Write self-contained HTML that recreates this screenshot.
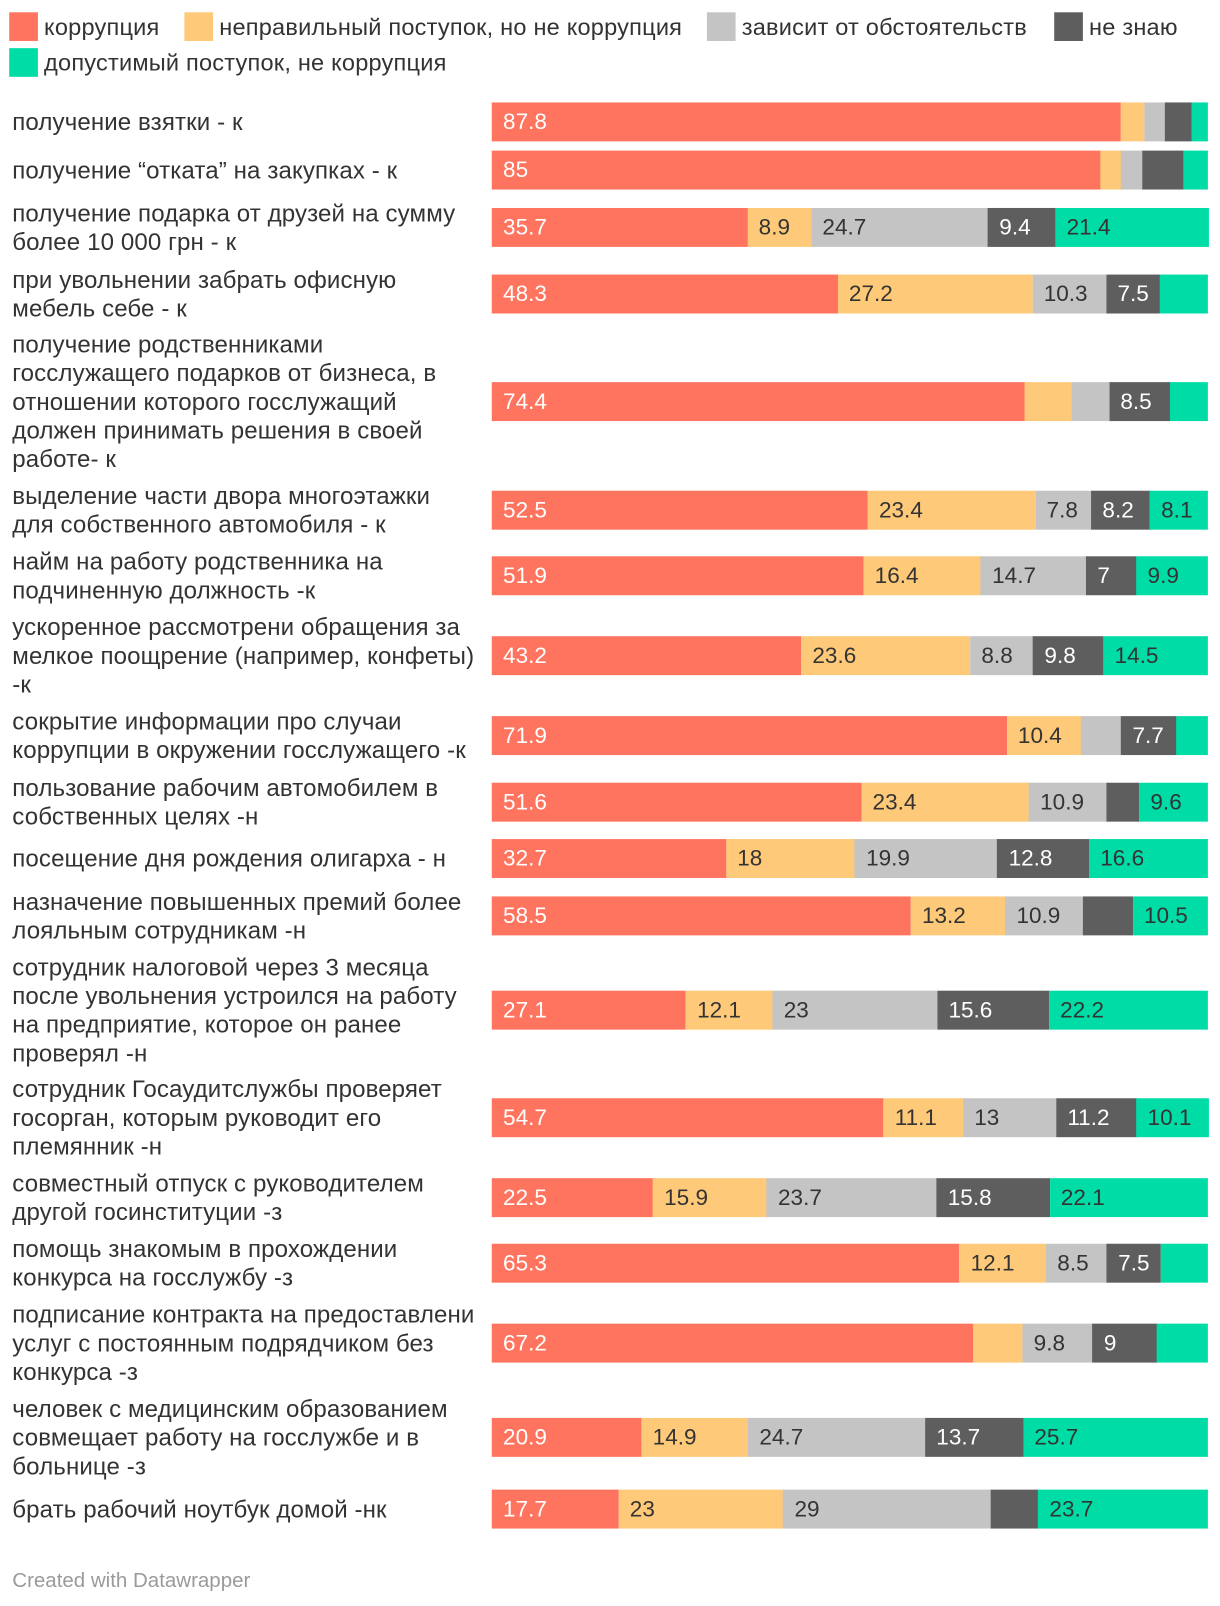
<!DOCTYPE html>
<html><head><meta charset="utf-8">
<style>
body{margin:0;background:#fff;width:1220px;height:1606px;position:relative;font-family:"Liberation Sans","DejaVu Sans",sans-serif;color:#333;overflow:hidden}
#wrap{position:absolute;left:0;top:0;width:1191px;height:1568px;transform:scale(1.0245);transform-origin:0 0}
.leg{position:absolute;font-size:23px;letter-spacing:0.2px;line-height:28px;display:flex;align-items:center;white-space:nowrap;color:#333}
.leg i{display:inline-block;width:28px;height:28px;margin-right:6px}
.lab{position:absolute;left:12px;width:470px;font-size:23.5px;letter-spacing:0.1px;line-height:28px;transform:translateY(-50%);white-space:nowrap}
.seg{position:absolute;height:38px;font-size:22px;line-height:38px;box-sizing:border-box;padding-left:11px;overflow:hidden;white-space:nowrap}
.foot{position:absolute;left:12px;top:1532px;font-size:20px;color:#9a9a9a}
</style></head><body>
<div id="wrap">
<div class="leg" style="left:9px;top:12px"><i style="background:#ff745f"></i>коррупция</div>
<div class="leg" style="left:180px;top:12px"><i style="background:#fec978"></i>неправильный поступок, но не коррупция</div>
<div class="leg" style="left:690px;top:12px"><i style="background:#c4c4c4"></i>зависит от обстоятельств</div>
<div class="leg" style="left:1029px;top:12px"><i style="background:#5e5e5e"></i>не знаю</div>
<div class="leg" style="left:9px;top:47px"><i style="background:#00dca6"></i>допустимый поступок, не коррупция</div>
<div id="chart"></div>
<div class="foot">Created with Datawrapper</div>
</div>
<script>
const categories=["получение взятки - к","получение “отката” на закупках - к","получение подарка от друзей на сумму<br>более 10 000 грн - к","при увольнении забрать офисную<br>мебель себе - к","получение родственниками<br>госслужащего подарков от бизнеса, в<br>отношении которого госслужащий<br>должен принимать решения в своей<br>работе- к","выделение части двора многоэтажки<br>для собственного автомобиля - к","найм на работу родственника на<br>подчиненную должность -к","ускоренное рассмотрени обращения за<br>мелкое поощрение (например, конфеты)<br>-к","сокрытие информации про случаи<br>коррупции в окружении госслужащего -к","пользование рабочим автомобилем в<br>собственных целях -н","посещение дня рождения олигарха - н","назначение повышенных премий более<br>лояльным сотрудникам -н","сотрудник налоговой через 3 месяца<br>после увольнения устроился на работу<br>на предприятие, которое он ранее<br>проверял -н","сотрудник Госаудитслужбы проверяет<br>госорган, которым руководит его<br>племянник -н","совместный отпуск с руководителем<br>другой госинституции -з","помощь знакомым в прохождении<br>конкурса на госслужбу -з","подписание контракта на предоставлени<br>услуг с постоянным подрядчиком без<br>конкурса -з","человек с медицинским образованием<br>совмещает работу на госслужбе и в<br>больнице -з","брать рабочий ноутбук домой -нк"];
const corruption=[87.8,85,35.7,48.3,74.4,52.5,51.9,43.2,71.9,51.6,32.7,58.5,27.1,54.7,22.5,65.3,67.2,20.9,17.7];
const wrong=[3.3,2.9,8.9,27.2,6.6,23.4,16.4,23.6,10.4,23.4,18,13.2,12.1,11.1,15.9,12.1,6.9,14.9,23];
const depends=[2.9,3.0,24.7,10.3,5.2,7.8,14.7,8.8,5.6,10.9,19.9,10.9,23,13,23.7,8.5,9.8,24.7,29];
const dontknow=[3.7,5.7,9.4,7.5,8.5,8.2,7,9.8,7.7,4.5,12.8,6.9,15.6,11.2,15.8,7.5,9,13.7,6.6];
const acceptable=[2.3,3.4,21.4,6.7,5.3,8.1,9.9,14.5,4.4,9.6,16.6,10.5,22.2,10.1,22.1,6.6,7.1,25.7,23.7];
const rowTops=[100,147,203,268,373,479,543,621,699,764,819,875,967,1072,1150,1214,1292,1384,1454];
const series=[corruption,wrong,depends,dontknow,acceptable];
const colors=["#ff745f","#fec978","#c4c4c4","#5e5e5e","#00dca6"];
const textColors=["#fff","#333","#333","#fff","#333"];
const names=["corruption","wrong","depends","dontknow","acceptable"];
const x0=480, W=699;
const xs=v=>v/100*W;
const chart=document.getElementById('chart');
categories.forEach((c,i)=>{
  const top=rowTops[i];
  const l=document.createElement('div');
  l.className='lab';
  
  
  l.style.top=(top+19)+'px';
  l.innerHTML=c;
  chart.appendChild(l);
  let acc=0;
  series.forEach((s,k)=>{
    const v=s[i];
    const d=document.createElement('div');
    d.className='seg';
    
    
    const left=x0+xs(acc), w=xs(v);
    d.style.left=left+'px';
    d.style.width=(w+0.5)+'px';
    d.style.top=top+'px';
    d.style.background=colors[k];
    d.style.color=textColors[k];
    if(v>=7 && !(k===4 && v<8)) d.textContent=String(v);
    chart.appendChild(d);
    acc+=v;
  });
});
</script>
</body></html>
